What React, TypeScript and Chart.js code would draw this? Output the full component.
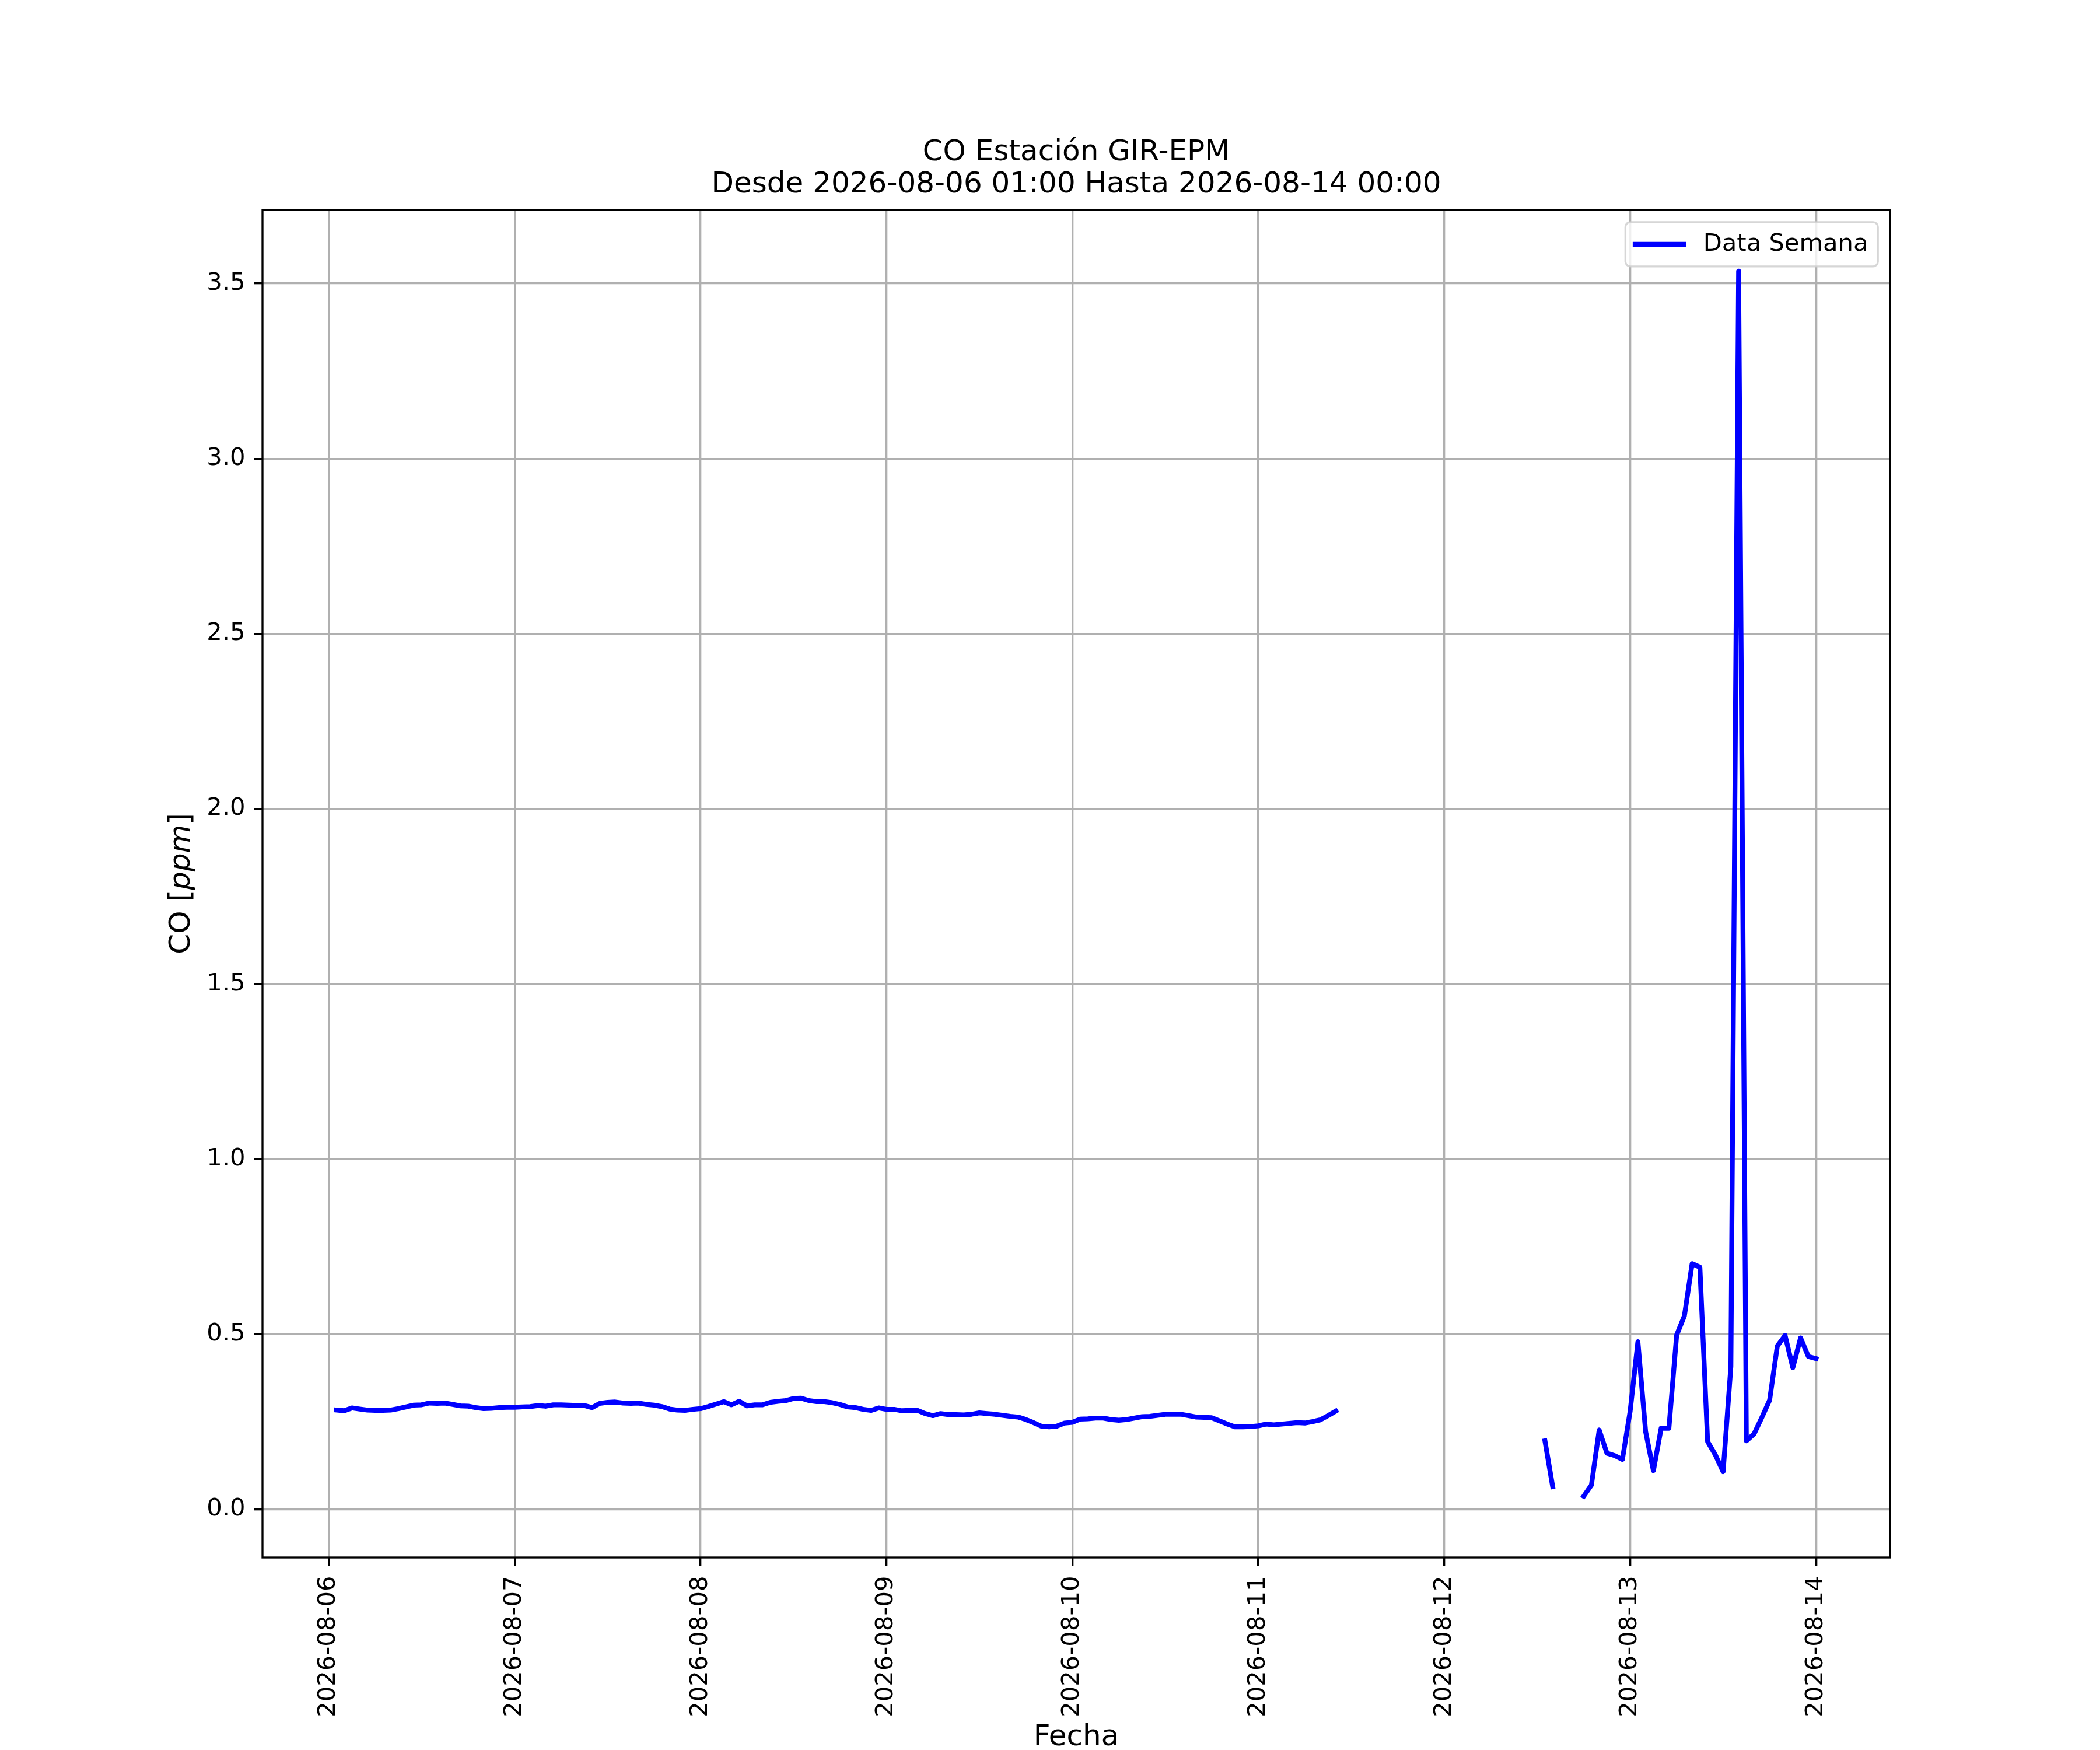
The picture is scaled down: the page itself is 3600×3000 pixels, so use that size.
import React, { useEffect, useRef } from 'react';
import { Chart, registerables } from 'chart.js';

Chart.register(...registerables);

// matplotlib-ish sizes: figure is 300 dpi, so one point is 300/72 px
const PT = 300 / 72;

const titleLines = ['CO Estación GIR-EPM', 'Desde 2026-08-06 01:00 Hasta 2026-08-14 00:00'];
const seriesLabel = 'Data Semana';
const xAxisLabel = 'Fecha';
const xTickLabels = [
    '2026-08-06', '2026-08-07', '2026-08-08', '2026-08-09', '2026-08-10',
    '2026-08-11', '2026-08-12', '2026-08-13', '2026-08-14',
];
const yTickValues = [0, 0.5, 1, 1.5, 2, 2.5, 3, 3.5];

// hourly CO readings (ppm); run starts are hours counted from 2026-08-06 00:00
const firstRunStart = 1;
const firstRun = [
    0.283, 0.281, 0.289, 0.286, 0.283, 0.282, 0.282, 0.283, 0.287, 0.292,
    0.297, 0.298, 0.303, 0.302, 0.303, 0.299, 0.295, 0.294, 0.290, 0.287,
    0.288, 0.290, 0.291, 0.291, 0.292, 0.293, 0.296, 0.294, 0.298, 0.298,
    0.297, 0.296, 0.296, 0.290, 0.302, 0.305, 0.306, 0.303, 0.302, 0.303,
    0.299, 0.297, 0.293, 0.286, 0.283, 0.282, 0.285, 0.287, 0.293, 0.300,
    0.307, 0.298, 0.308, 0.295, 0.298, 0.298, 0.305, 0.308, 0.310, 0.316,
    0.317, 0.310, 0.307, 0.307, 0.304, 0.299, 0.292, 0.290, 0.285, 0.282,
    0.289, 0.285, 0.285, 0.281, 0.282, 0.282, 0.273, 0.267, 0.273, 0.270,
    0.270, 0.269, 0.271, 0.275, 0.273, 0.271, 0.268, 0.265, 0.263, 0.256,
    0.247, 0.237, 0.235, 0.237, 0.246, 0.248, 0.257, 0.258, 0.260, 0.260,
    0.256, 0.254, 0.256, 0.260, 0.264, 0.265, 0.268, 0.271, 0.271, 0.271,
    0.267, 0.263, 0.262, 0.261, 0.252, 0.243, 0.235, 0.235, 0.236, 0.238,
    0.243, 0.241, 0.243, 0.245, 0.247, 0.246, 0.250, 0.255, 0.267, 0.280,
];
const secondRunStart = 157;
const secondRun = [0.195, 0.064];
const thirdRunStart = 162;
const thirdRun = [
    0.037, 0.069, 0.226, 0.160, 0.153, 0.142, 0.280, 0.478, 0.221, 0.110,
    0.231, 0.231, 0.497, 0.552, 0.701, 0.691, 0.193, 0.155, 0.107, 0.407,
    3.535, 0.195, 0.215, 0.262, 0.311, 0.466, 0.496, 0.404, 0.489, 0.436,
    0.430,
];

type Pt = { x: number; y: number | null };

const toPoints = (start: number, values: number[]): Pt[] =>
    values.map((y, i) => ({ x: start + i, y }));

const runs: [number, number[]][] = [
    [firstRunStart, firstRun],
    [secondRunStart, secondRun],
    [thirdRunStart, thirdRun],
];

// NaN-style breaks between the runs, like the original plot
const points: Pt[] = [];
runs.forEach(([start, values], i) => {
    if (i > 0) points.push({ x: start - 1, y: null });
    points.push(...toPoints(start, values));
});

const xs = points.filter(p => p.y !== null).map(p => p.x);
const ys = points.filter(p => p.y !== null).map(p => p.y as number);
const xLo = Math.min(...xs), xHi = Math.max(...xs);
const yLo = Math.min(...ys), yHi = Math.max(...ys);
const xPad = (xHi - xLo) * 0.05;
const yPad = (yHi - yLo) * 0.05;

const FONT = 'DejaVu Sans';
const TICK_SIZE = 10 * PT;
const LABEL_SIZE = 12 * PT;

const matplotlibLook = {
    id: 'matplotlibLook',
    afterDatasetsDraw(chart: Chart) {
        const { ctx, chartArea: a } = chart;
        ctx.save();

        // axes box
        ctx.strokeStyle = '#000';
        ctx.lineWidth = 0.8 * PT;
        ctx.strokeRect(a.left, a.top, a.right - a.left, a.bottom - a.top);

        // legend, upper right
        const fs = TICK_SIZE;
        ctx.font = `${fs}px "${FONT}"`;
        const label = String(chart.data.datasets[0].label);
        const textW = ctx.measureText(label).width;
        const pad = 0.4 * fs, handle = 2 * fs, gap = 0.8 * fs;
        const boxW = pad * 2 + handle + gap + textW;
        const boxH = 76;
        const bx = a.right - 0.5 * fs - boxW;
        const by = a.top + 0.5 * fs;
        const r = 0.2 * fs;
        ctx.beginPath();
        ctx.moveTo(bx + r, by);
        ctx.arcTo(bx + boxW, by, bx + boxW, by + boxH, r);
        ctx.arcTo(bx + boxW, by + boxH, bx, by + boxH, r);
        ctx.arcTo(bx, by + boxH, bx, by, r);
        ctx.arcTo(bx, by, bx + boxW, by, r);
        ctx.closePath();
        ctx.fillStyle = 'rgba(255,255,255,0.8)';
        ctx.fill();
        ctx.strokeStyle = 'rgba(204,204,204,0.8)';
        ctx.lineWidth = 0.8 * PT;
        ctx.stroke();

        const midY = by + boxH / 2;
        ctx.strokeStyle = '#0000ff';
        ctx.lineWidth = 2 * PT;
        ctx.lineCap = 'square';
        ctx.beginPath();
        ctx.moveTo(bx + pad, midY);
        ctx.lineTo(bx + pad + handle, midY);
        ctx.stroke();

        ctx.fillStyle = '#000';
        ctx.textBaseline = 'middle';
        ctx.textAlign = 'left';
        ctx.fillText(label, bx + pad + handle + gap, midY);

        // y label: CO [ppm] with italic ppm
        const parts: [string, string][] = [
            ['CO [', 'normal'],
            ['ppm', 'italic'],
            [']', 'normal'],
        ];
        const widths = parts.map(([t, s]) => {
            ctx.font = `${s} ${LABEL_SIZE}px "${FONT}"`;
            return ctx.measureText(t).width;
        });
        const total = widths.reduce((s, w) => s + w, 0);
        ctx.translate(325, (a.top + a.bottom) / 2);
        ctx.rotate(-Math.PI / 2);
        ctx.textBaseline = 'alphabetic';
        let cx = -total / 2;
        parts.forEach(([t, s], i) => {
            ctx.font = `${s} ${LABEL_SIZE}px "${FONT}"`;
            ctx.fillText(t, cx, 0);
            cx += widths[i];
        });

        ctx.restore();
    },
};

function COWeekChart() {
    const chartRef = useRef<HTMLCanvasElement | null>(null);
    const chartInstance = useRef<Chart | null>(null);

    useEffect(() => {
        document.body.style.margin = '0';
        if (!chartRef.current) return;
        if (chartInstance.current) chartInstance.current.destroy();

        const grid = {
            color: '#b0b0b0',
            lineWidth: 0.8 * PT,
            tickColor: '#000',
            tickWidth: 0.8 * PT,
            tickLength: 3.5 * PT,
        };

        chartInstance.current = new Chart(chartRef.current, {
            type: 'line',
            data: {
                datasets: [{
                    label: seriesLabel,
                    data: points,
                    borderColor: '#0000ff',
                    backgroundColor: '#0000ff',
                    borderWidth: 2 * PT,
                    borderCapStyle: 'square',
                    borderJoinStyle: 'round',
                    pointRadius: 0,
                    tension: 0,
                    spanGaps: false,
                }],
            },
            options: {
                animation: false,
                responsive: false,
                maintainAspectRatio: false,
                devicePixelRatio: 1,
                layout: { padding: { left: 0, right: 360, top: 0, bottom: 0 } },
                scales: {
                    x: {
                        type: 'linear',
                        min: xLo - xPad,
                        max: xHi + xPad,
                        grid,
                        border: { display: false },
                        afterBuildTicks: (scale: any) => {
                            scale.ticks = xTickLabels.map((_, i) => ({ value: i * 24 }));
                        },
                        afterFit: (scale: any) => { scale.height = 330; },
                        ticks: {
                            autoSkip: false,
                            maxRotation: 90,
                            minRotation: 90,
                            padding: 17,
                            color: '#000',
                            font: { family: FONT, size: TICK_SIZE },
                            callback: (_v: any, i: number) => xTickLabels[i],
                        },
                        title: {
                            display: true,
                            text: xAxisLabel,
                            color: '#000',
                            font: { family: FONT, size: LABEL_SIZE, lineHeight: 1 },
                            padding: { top: 0, bottom: -4 },
                        },
                    },
                    y: {
                        type: 'linear',
                        min: yLo - yPad,
                        max: yHi + yPad,
                        grid,
                        border: { display: false },
                        afterBuildTicks: (scale: any) => {
                            scale.ticks = yTickValues.map(v => ({ value: v }));
                        },
                        afterFit: (scale: any) => { scale.width = 450; },
                        ticks: {
                            padding: 15,
                            color: '#000',
                            font: { family: FONT, size: TICK_SIZE },
                            callback: (v: any) => Number(v).toFixed(1),
                        },
                    },
                },
                plugins: {
                    legend: { display: false },
                    tooltip: { enabled: false },
                    title: {
                        display: true,
                        text: titleLines,
                        fullSize: false,
                        color: '#000',
                        font: { family: FONT, size: LABEL_SIZE, weight: 'normal', lineHeight: 1.1 },
                        padding: { top: 235, bottom: 15 },
                    },
                },
            },
            plugins: [matplotlibLook],
        } as any);

        return () => {
            if (chartInstance.current) {
                chartInstance.current.destroy();
                chartInstance.current = null;
            }
        };
    }, []);

    return (
        <canvas
            ref={chartRef}
            width={3600}
            height={3000}
            style={{ display: 'block', width: 3600, height: 3000 }}
        />
    );
}

export default function App() {
    return <COWeekChart />;
}
